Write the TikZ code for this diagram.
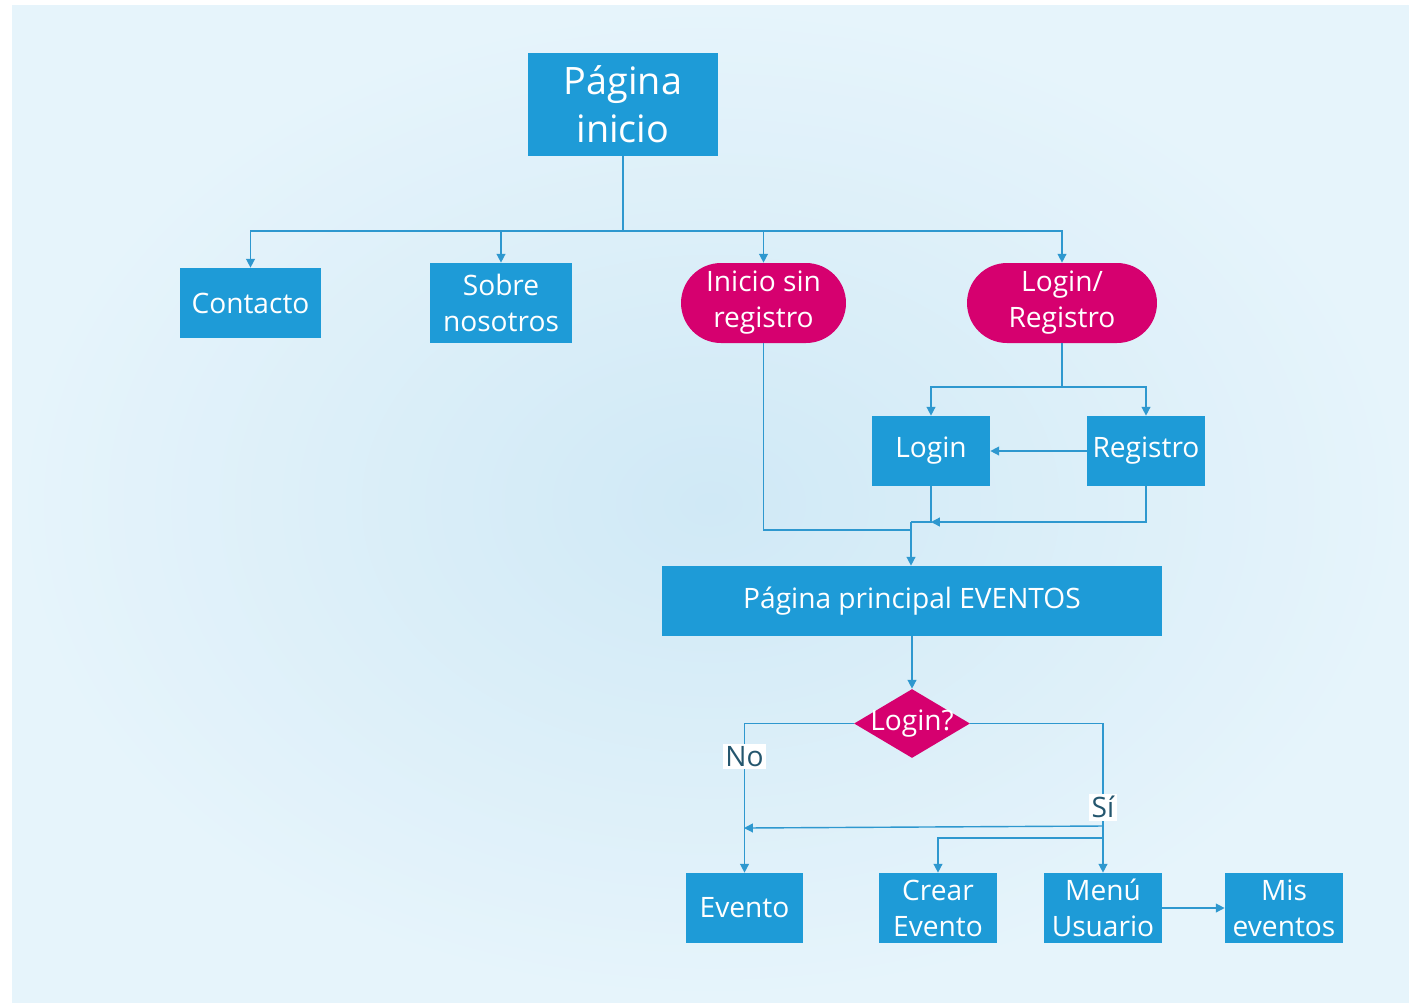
\documentclass[tikz,border=0pt]{standalone}
\usepackage{fontspec}
\setmainfont{Open Sans}
\usepackage{tikz}
\usetikzlibrary{arrows.meta, positioning, shapes.geometric}
\usepackage{xcolor}
\definecolor{boxblue}{HTML}{1E9BD7}
\definecolor{startpink}{HTML}{D6006F}
\definecolor{linecol}{HTML}{2E98CF}
\definecolor{answertext}{HTML}{24566E}
\definecolor{bgin}{HTML}{D0E9F6}
\definecolor{bgout}{HTML}{E6F4FB}

\begin{document}
\begin{tikzpicture}[
    x=0.02cm, y=-0.02cm,
    pagebox/.style={rectangle, fill=boxblue, text=white, align=center, inner sep=0pt, minimum height=1.4cm, minimum width=2.36cm, font=\fontsize{16}{20.5}\selectfont},
    startbox/.style={rectangle, rounded corners=0.8cm, fill=startpink, text=white, align=center, inner sep=0pt, minimum height=1.6cm, font=\fontsize{16}{20.5}\selectfont},
    decision/.style={diamond, fill=startpink, inner sep=0pt, minimum width=2.32cm, minimum height=1.38cm, label={[text=white, font=\fontsize{16}{20.5}\selectfont]center:Login?}},
    answer/.style={fill=white, text=answertext, inner sep=1.5pt, font=\fontsize{16}{20.5}\selectfont},
    link/.style={draw=linecol, line width=0.8pt},
    flow/.style={link, -{Triangle[length=5pt, width=5pt]}}
]
    % Background
    \fill[white] (0,0) rectangle (1409,1002);
    \shade[inner color=bgin, outer color=bgout] (12,5) rectangle (1409,1002);
    \useasboundingbox (0,0) rectangle (1409,1002);

    % Start page
    \node[pagebox, minimum width=3.8cm, minimum height=2.06cm, font=\fontsize{21.5}{27.2}\selectfont] (inicio) at (623,104.5) {Página\\inicio};

    % First row
    \node[pagebox, minimum width=2.82cm] (contacto) at (250.5,303) {Contacto};
    \node[pagebox, minimum width=2.84cm, minimum height=1.6cm] (sobre) at (501,303) {Sobre\\nosotros};
    \node[startbox, minimum width=3.3cm] (sinreg) at (763.5,303) {Inicio sin\\registro};
    \node[startbox, minimum width=3.8cm] (loginreg) at (1062,303) {Login/\\Registro};

    % Login and Registro
    \node[pagebox] (login) at (931,451) {Login};
    \node[pagebox] (registro) at (1146,451) {Registro};

    % Main page
    \node[pagebox, minimum width=10cm] (principal) at (912,601) {Página principal EVENTOS};
    \node[decision] (pregunta) at (912,723.5) {};

    % Last row
    \node[pagebox, minimum width=2.34cm] (evento) at (744.5,908) {Evento};
    \node[pagebox] (crear) at (938,908) {Crear\\Evento};
    \node[pagebox] (menu) at (1103,908) {Menú\\Usuario};
    \node[pagebox] (mis) at (1284,908) {Mis\\eventos};

    % Connectors from the start page
    \coordinate (reparto) at (623,231);
    \draw[link] (inicio.south) -- (reparto);
    \foreach \n in {contacto, sobre, sinreg, loginreg} {
        \draw[flow] (reparto) -| (\n.north);
    }

    % Login / Registro split
    \coordinate (split) at (1062,387);
    \draw[link] (loginreg.south) -- (split);
    \draw[flow] (split) -| (login.north);
    \draw[flow] (split) -| (registro.north);
    \draw[flow] (registro.west) -- (login.east);

    % Joining into the main page
    \coordinate (jlogin) at (931,522);
    \coordinate (jmain) at (911,522);
    \coordinate (jsin) at (911,530);
    \draw[link] (login.south) -- (jlogin) -- (jmain);
    \draw[flow] (registro.south) |- (jlogin);
    \draw[link] (sinreg.south) |- (jsin);
    \draw[flow] (jmain) -- (jmain |- principal.north);

    % Decision
    \draw[flow] (principal.south) -- (pregunta.north);
    \draw[flow] (pregunta.west) -| node[answer, pos=0.61] {No} (evento.north);
    \draw[flow] (pregunta.east) -| node[answer, pos=0.78] {Sí} (menu.north);
    \coordinate (siback) at (1103,826);
    \coordinate (noin) at (744,828);
    \draw[flow] (siback) -- (noin);
    \coordinate (sicrear) at (1103,838);
    \draw[flow] (sicrear) -| (crear.north);
    \draw[flow] (menu.east) -- (mis.west);

\end{tikzpicture}
\end{document}
